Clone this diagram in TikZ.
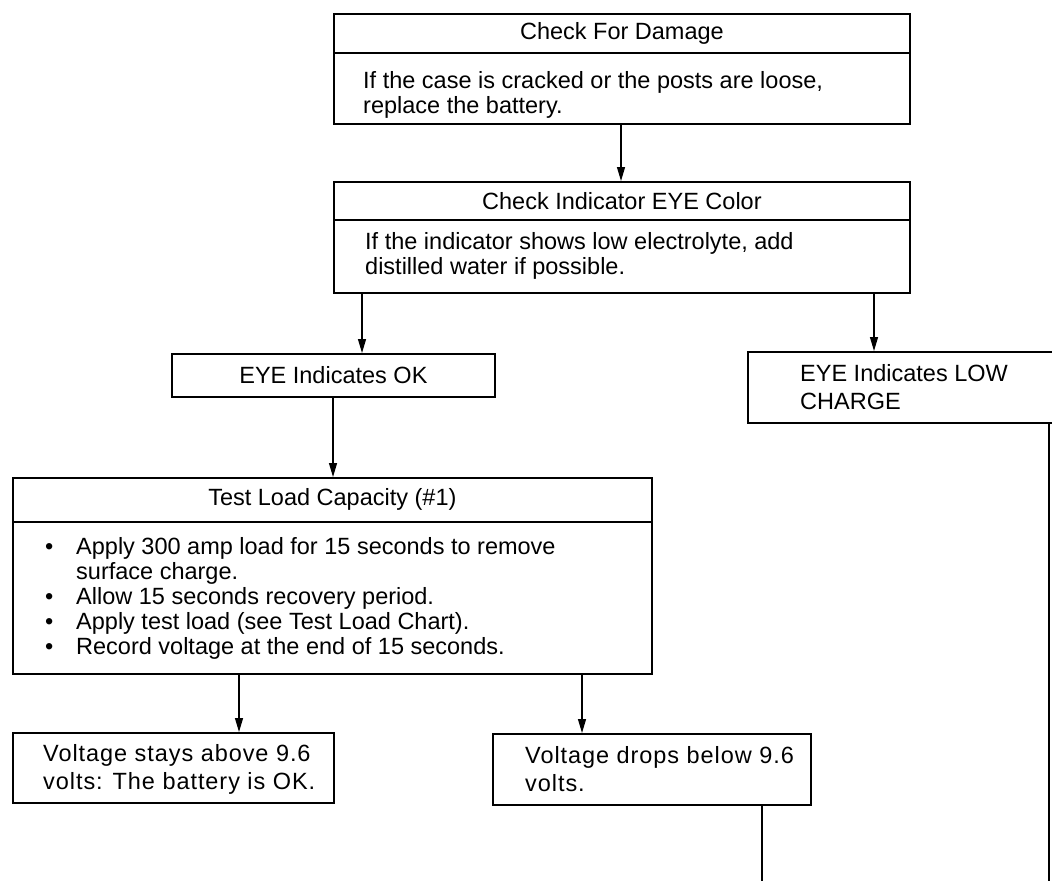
\documentclass[tikz,border=0pt]{standalone}
\usepackage{fontspec}
\setmainfont{Liberation Sans}
\usetikzlibrary{arrows.meta}
\begin{document}
\begin{tikzpicture}[x=1pt,y=-1pt,
  box/.style={draw, line width=1.8pt, inner sep=0pt, anchor=north west},
  txt/.style={inner sep=0pt, font=\fontsize{23.5}{25}\selectfont, align=left},
  tall/.style={txt, font=\fontsize{23.5}{28}\selectfont},
  wide/.style={txt, font=\fontsize{23.5}{28}\selectfont\addfontfeature{LetterSpace=4}},
  link/.style={line width=1.2pt},
  arr/.style={link, -{Triangle[width=8pt,length=14pt]}}]
\clip (0,0) rectangle (1052,881);
\fill[white] (0,0) rectangle (1052,881);

% --- boxes ---
\node[box, minimum width=576pt, minimum height=39pt] (b1h) at (333,13) {};
\node[box, minimum width=576pt, minimum height=71pt] (b1)  at (333,52) {};
\node[box, minimum width=576pt, minimum height=38pt] (b2h) at (333,181) {};
\node[box, minimum width=576pt, minimum height=73pt] (b2)  at (333,219) {};
\node[box, minimum width=323pt, minimum height=43pt] (ok)  at (171,353) {};
\node[box, minimum width=340pt, minimum height=71pt] (low) at (747,351) {};
\node[box, minimum width=639pt, minimum height=44pt] (th)  at (12,477) {};
\node[box, minimum width=639pt, minimum height=152pt] (tb) at (12,521) {};
\node[box, minimum width=321pt, minimum height=70pt] (stay) at (12,732) {};
\node[box, minimum width=318pt, minimum height=71pt] (drop) at (492,733) {};

% --- texts ---
\node[txt] (b1ht) at (b1h) {Check For Damage};
\node[txt, anchor=west] (b1t) at (363,95) {If the case is cracked or the posts are loose,\\replace the battery.};
\node[txt] (b2ht) at (b2h) {Check Indicator EYE Color};
\node[txt, anchor=west] (b2t) at (365,256) {If the indicator shows low electrolyte, add\\distilled water if possible.};
\node[txt] (okt) at (ok) {EYE Indicates OK};
\node[tall, anchor=west] (lowt) at (800,387) {EYE Indicates LOW\\CHARGE};
\node[txt] (tht) at (th) {Test Load Capacity (\#1)};
\node[txt, anchor=west] (tbt) at (45,598) {%
\makebox[31pt][l]{•}Apply 300 amp load for 15 seconds to remove\\
\hspace*{31pt}surface charge.\\
\makebox[31pt][l]{•}Allow 15 seconds recovery period.\\
\makebox[31pt][l]{•}Apply test load (see Test Load Chart).\\
\makebox[31pt][l]{•}Record voltage at the end of 15 seconds.};
\node[wide, anchor=west] (stayt) at (43,769) {Voltage stays above 9.6\\volts: The battery is OK.};
\node[wide, anchor=west] (dropt) at (525,769) {Voltage drops below 9.6\\volts.};

% --- connector columns ---
\coordinate (c1) at (621,0);
\coordinate (c2) at (362,0);
\coordinate (c3) at (874,0);
\coordinate (c4) at (333,0);
\coordinate (c5) at (239,0);
\coordinate (c6) at (582,0);
\coordinate (c7) at (762,881);
\coordinate (c8) at (1049,881);

% --- connectors ---
\draw[arr] (b1.south -| c1) -- (b2h.north -| c1);
\draw[arr] (b2.south -| c2) -- (ok.north -| c2);
\draw[arr] (b2.south -| c3) -- (low.north -| c3);
\draw[arr] (ok.south -| c4) -- (th.north -| c4);
\draw[arr] (tb.south -| c5) -- (stay.north -| c5);
\draw[arr] (tb.south -| c6) -- (drop.north -| c6);
\draw[link] (drop.south -| c7) -- (c7);
\draw[link] (low.south -| c8) -- (c8);
\end{tikzpicture}
\end{document}
